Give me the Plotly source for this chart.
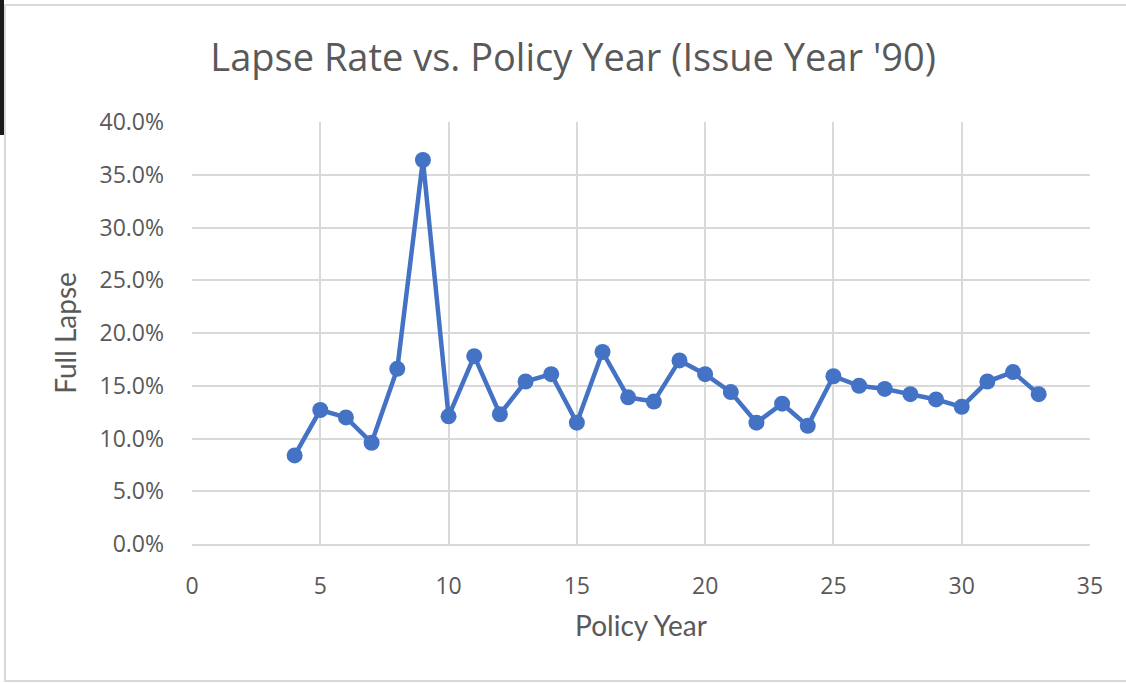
import plotly.graph_objects as go

# Policy year and full lapse rate (fraction) for issue year 1990
policy_year = list(range(4, 34))
full_lapse = [
    0.084, 0.127, 0.120, 0.096, 0.166, 0.364, 0.121, 0.178, 0.123, 0.154,
    0.161, 0.115, 0.182, 0.139, 0.135, 0.174, 0.161, 0.144, 0.115, 0.133,
    0.112, 0.159, 0.150, 0.147, 0.142, 0.137, 0.130, 0.154, 0.163, 0.142,
]

x_ticks = [0, 5, 10, 15, 20, 25, 30, 35]
y_ticks = [0.0, 0.05, 0.10, 0.15, 0.20, 0.25, 0.30, 0.35, 0.40]

TEXT = "#595959"
GRID = "#d9d9d9"
BLUE = "#4472C4"

fig = go.Figure(
    go.Scatter(
        x=policy_year,
        y=full_lapse,
        mode="lines+markers",
        line=dict(color=BLUE, width=4.5),
        marker=dict(color=BLUE, size=16),
        hoverinfo="x+y",
    )
)

L, R, T, B = 192, 36, 122, 139
PW, PH = 1126 - L - R, 683 - T - B


def px_x(v):
    return (v - L) / PW


def px_y(v):
    return (683 - B - v) / PH


fig.update_layout(
    width=1126,
    height=683,
    paper_bgcolor="white",
    plot_bgcolor="white",
    showlegend=False,
    margin=dict(l=L, r=R, t=T, b=B),
    title=dict(
        text="Lapse Rate vs. Policy Year (Issue Year '90)",
        x=0.509,
        xanchor="center",
        y=0.915,
        yanchor="middle",
        font=dict(family="Open Sans", size=38, color=TEXT),
    ),
    shapes=[
        # outer frame of the chart area
        dict(type="rect", xref="paper", yref="paper",
             x0=px_x(5), x1=px_x(1130), y0=px_y(681), y1=px_y(5),
             line=dict(color=GRID, width=2), layer="below"),
        # dark strip along the upper left edge
        dict(type="rect", xref="paper", yref="paper",
             x0=px_x(-2), x1=px_x(4), y0=px_y(135), y1=px_y(-2),
             fillcolor="#1a1a1a", line=dict(width=0)),
    ],
)

fig.update_xaxes(
    range=[0, 35],
    tickvals=x_ticks,
    ticktext=[str(v) for v in x_ticks],
    showgrid=True,
    gridcolor=GRID,
    gridwidth=2,
    zeroline=False,
    showline=True,
    linecolor=GRID,
    linewidth=2,
    ticks="",
    ticklabelstandoff=20,
    tickfont=dict(family="Open Sans", size=23, color=TEXT),
    title=dict(text="Policy Year", standoff=17,
               font=dict(family="Lato", size=28, color=TEXT)),
)

fig.update_yaxes(
    range=[0, 0.40],
    tickvals=y_ticks,
    tickformat=".1%",
    showgrid=True,
    gridcolor=GRID,
    gridwidth=2,
    zeroline=False,
    showline=False,
    ticks="",
    ticklabelstandoff=27,
    tickfont=dict(family="Open Sans", size=23, color=TEXT),
    title=dict(text="Full Lapse", standoff=14,
               font=dict(family="Lato", size=28, color=TEXT)),
)

fig.write_html("out.html")
